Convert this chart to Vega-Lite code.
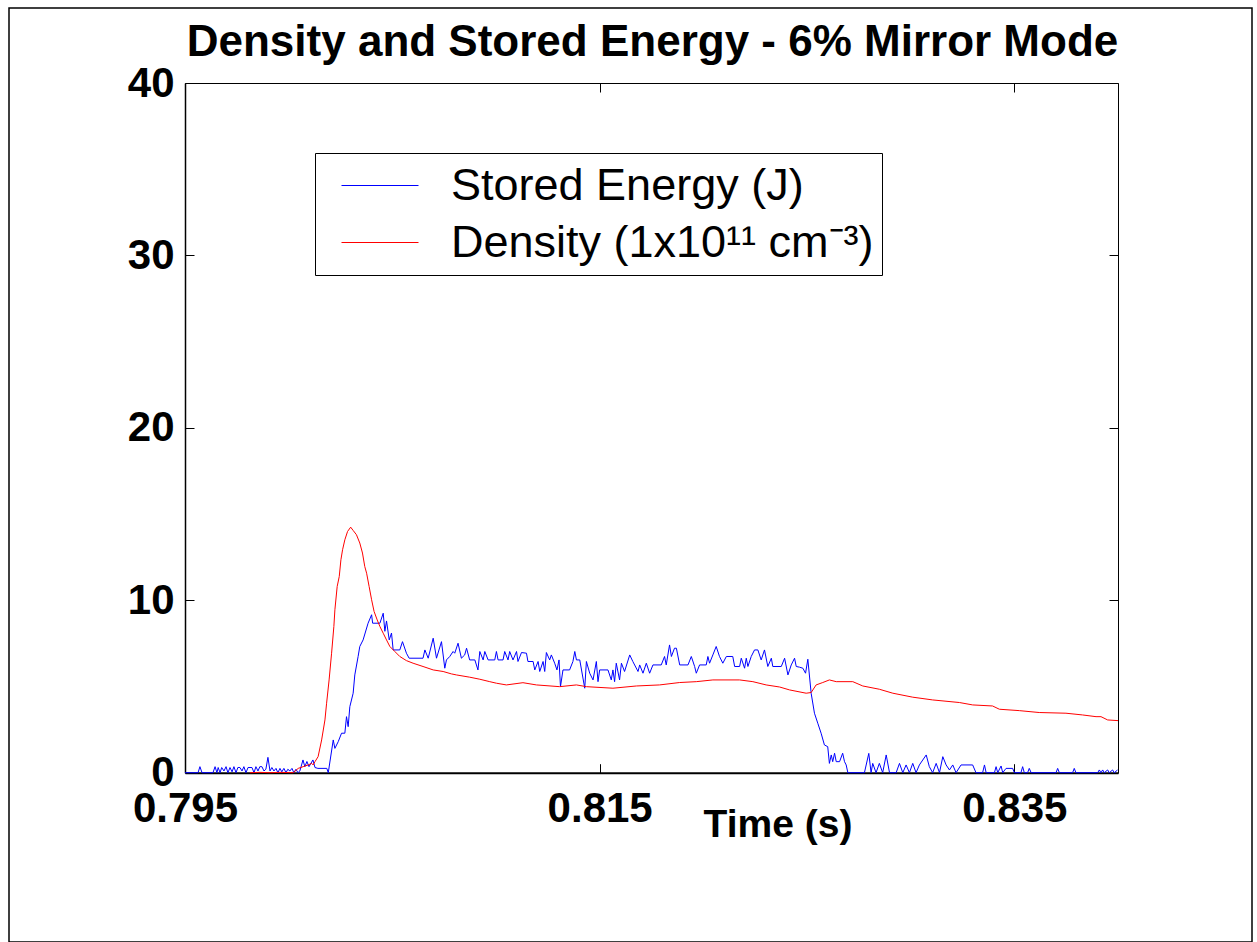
{
  "$schema": "https://vega.github.io/schema/vega-lite/v6.json",
  "width": 1243,
  "height": 934,
  "autosize": "none",
  "padding": {"left": 9, "top": 8, "right": 5, "bottom": 0},
  "background": "white",
  "config": {
    "view": {"stroke": "black", "strokeWidth": 1.5},
    "font": "Liberation Sans"
  },
  "title": {
    "text": "Density and Stored Energy - 6% Mirror Mode",
    "font": "Liberation Sans",
    "fontSize": 44,
    "fontWeight": "bold",
    "color": "black",
    "anchor": "middle",
    "frame": "group",
    "baseline": "alphabetic",
    "offset": 0,
    "dy": 92,
    "dx": 22
  },
  "datasets": {
    "energy": [
      {"t":0.79500,"v":0},{"t":0.79563,"v":0},{"t":0.79572,"v":0.35},{"t":0.79582,"v":0},{"t":0.79635,"v":0},{"t":0.79645,"v":0.35},{"t":0.79654,"v":0},{"t":0.79660,"v":0.3},{"t":0.79669,"v":0},{"t":0.79677,"v":0.3},{"t":0.79688,"v":0.1},{"t":0.79698,"v":0.35},{"t":0.79707,"v":0},{"t":0.79717,"v":0.3},{"t":0.79727,"v":0.05},{"t":0.79736,"v":0.35},{"t":0.79746,"v":0},{"t":0.79755,"v":0.3},{"t":0.79765,"v":0.3},{"t":0.79775,"v":0.1},{"t":0.79784,"v":0.35},{"t":0.79794,"v":0},{"t":0.79804,"v":0.3},{"t":0.79823,"v":0.3},{"t":0.79833,"v":0},{"t":0.79842,"v":0.35},{"t":0.79852,"v":0.1},{"t":0.79861,"v":0.35},{"t":0.79871,"v":0.35},{"t":0.79881,"v":0.1},{"t":0.79890,"v":0.2},{"t":0.79900,"v":0.89},{"t":0.79910,"v":0.1},{"t":0.79919,"v":0.3},{"t":0.79929,"v":0.1},{"t":0.79939,"v":0.25},{"t":0.79948,"v":0},{"t":0.79958,"v":0.25},{"t":0.79967,"v":0.05},{"t":0.79977,"v":0.25},{"t":0.79987,"v":0},{"t":0.79996,"v":0.2},{"t":0.80006,"v":0.1},{"t":0.80016,"v":0.25},{"t":0.80025,"v":0},{"t":0.80035,"v":0.2},{"t":0.80045,"v":0},{"t":0.80054,"v":0.1},{"t":0.80069,"v":0.74},{"t":0.80078,"v":0.35},{"t":0.80088,"v":0.65},{"t":0.80098,"v":0.35},{"t":0.80117,"v":0.74},{"t":0.80127,"v":0.3},{"t":0.80141,"v":0.25},{"t":0.80184,"v":0.25},{"t":0.80191,"v":0},{"t":0.80215,"v":1.9},{"t":0.80223,"v":1.41},{"t":0.80239,"v":1.8},{"t":0.80255,"v":2.29},{"t":0.80271,"v":2.29},{"t":0.80279,"v":3.25},{"t":0.80287,"v":2.67},{"t":0.80295,"v":3.83},{"t":0.80311,"v":4.61},{"t":0.80319,"v":5.67},{"t":0.80335,"v":6.74},{"t":0.80343,"v":7.32},{"t":0.80359,"v":7.7},{"t":0.80383,"v":8.67},{"t":0.80400,"v":9.16},{"t":0.80405,"v":8.67},{"t":0.80440,"v":8.67},{"t":0.80456,"v":9.25},{"t":0.80464,"v":8.2},{"t":0.80472,"v":8.8},{"t":0.80485,"v":7.7},{"t":0.80496,"v":8.1},{"t":0.80504,"v":7.12},{"t":0.80536,"v":7.12},{"t":0.80549,"v":7.6},{"t":0.80568,"v":6.93},{"t":0.80581,"v":6.64},{"t":0.80648,"v":6.64},{"t":0.80657,"v":7.12},{"t":0.80673,"v":6.64},{"t":0.80697,"v":7.8},{"t":0.80713,"v":6.64},{"t":0.80737,"v":7.6},{"t":0.80753,"v":6.06},{"t":0.80761,"v":6.54},{"t":0.80777,"v":6.74},{"t":0.80793,"v":7.03},{"t":0.80801,"v":6.93},{"t":0.80817,"v":7.51},{"t":0.80833,"v":6.64},{"t":0.80849,"v":6.83},{"t":0.80858,"v":7.22},{"t":0.80873,"v":6.54},{"t":0.80898,"v":6.54},{"t":0.80913,"v":5.96},
      {"t":0.80922,"v":7.03},{"t":0.80938,"v":6.54},{"t":0.80946,"v":7.03},{"t":0.80962,"v":6.54},{"t":0.80994,"v":6.54},{"t":0.81002,"v":7.03},{"t":0.81010,"v":6.54},{"t":0.81034,"v":6.54},{"t":0.81042,"v":7.03},{"t":0.81058,"v":6.54},{"t":0.81066,"v":7.03},{"t":0.81082,"v":6.54},{"t":0.81099,"v":7.03},{"t":0.81106,"v":6.45},{"t":0.81123,"v":6.97},{"t":0.81147,"v":6.93},{"t":0.81154,"v":6.45},{"t":0.81179,"v":6.45},{"t":0.81187,"v":5.96},{"t":0.81203,"v":6.45},{"t":0.81211,"v":5.87},{"t":0.81227,"v":6.45},{"t":0.81235,"v":5.87},{"t":0.81243,"v":6.97},{"t":0.81259,"v":6.54},{"t":0.81267,"v":6.83},{"t":0.81283,"v":6.35},{"t":0.81294,"v":5.96},{"t":0.81304,"v":6.54},{"t":0.81311,"v":4.99},{"t":0.81323,"v":5.96},{"t":0.81355,"v":5.96},{"t":0.81371,"v":6.45},{"t":0.81380,"v":7.03},{"t":0.81388,"v":6.54},{"t":0.81404,"v":6.54},{"t":0.81428,"v":4.9},{"t":0.81436,"v":6.45},{"t":0.81452,"v":5.77},{"t":0.81468,"v":5.38},{"t":0.81484,"v":6.45},{"t":0.81492,"v":5.28},{"t":0.81500,"v":5.96},{"t":0.81540,"v":5.96},{"t":0.81556,"v":5.38},{"t":0.81564,"v":5.96},{"t":0.81572,"v":5.28},{"t":0.81580,"v":6.35},{"t":0.81596,"v":5.38},{"t":0.81605,"v":6.35},{"t":0.81620,"v":5.87},{"t":0.81645,"v":6.83},{"t":0.81660,"v":6.45},{"t":0.81685,"v":5.87},{"t":0.81693,"v":6.25},{"t":0.81709,"v":5.77},{"t":0.81725,"v":6.35},{"t":0.81741,"v":5.77},{"t":0.81757,"v":6.25},{"t":0.81797,"v":6.25},{"t":0.81813,"v":6.74},{"t":0.81821,"v":6.25},{"t":0.81837,"v":7.41},{"t":0.81846,"v":6.74},{"t":0.81861,"v":7.22},{"t":0.81870,"v":7.22},{"t":0.81886,"v":6.25},{"t":0.81926,"v":6.25},{"t":0.81942,"v":6.74},{"t":0.81958,"v":6.16},{"t":0.81966,"v":5.77},{"t":0.81982,"v":6.25},{"t":0.82014,"v":6.25},{"t":0.82022,"v":6.74},{"t":0.82030,"v":6.35},{"t":0.82046,"v":6.83},{"t":0.82062,"v":7.32},{"t":0.82078,"v":6.74},{"t":0.82094,"v":6.35},{"t":0.82111,"v":6.74},{"t":0.82142,"v":6.74},{"t":0.82151,"v":6.16},{"t":0.82175,"v":6.16},{"t":0.82183,"v":6.64},{"t":0.82199,"v":6.06},{"t":0.82207,"v":6.64},{"t":0.82215,"v":6.16},{"t":0.82231,"v":6.74},{"t":0.82247,"v":7.12},{"t":0.82263,"v":7.12},{"t":0.82279,"v":6.54},{"t":0.82295,"v":7.12},{"t":0.82311,"v":6.16},{"t":0.82328,"v":6.64},{"t":0.82335,"v":6.16},{"t":0.82376,"v":6.16},{"t":0.82392,"v":6.64},{"t":0.82408,"v":5.67},{"t":0.82424,"v":6.25},{"t":0.82440,"v":6.64},{"t":0.82448,"v":6.16},{"t":0.82464,"v":6.12},{"t":0.82480,"v":6.06},{"t":0.82493,"v":5.77},{"t":0.82504,"v":6.58},{"t":0.82520,"v":4.61},{"t":0.82536,"v":3.45},{"t":0.82552,"v":2.87},{"t":0.82568,"v":2.29},{"t":0.82584,"v":1.61},{"t":0.82600,"v":1.51},
      {"t":0.82608,"v":0.54},{"t":0.82617,"v":1.03},{"t":0.82624,"v":0.64},{"t":0.82633,"v":1.13},{"t":0.82641,"v":0.64},{"t":0.82657,"v":0.64},{"t":0.82672,"v":1.13},{"t":0.82681,"v":0.64},{"t":0.82689,"v":0.45},{"t":0.82697,"v":0},{"t":0.82777,"v":0},{"t":0.82798,"v":1.12},{"t":0.82809,"v":0},{"t":0.82817,"v":0.54},{"t":0.82833,"v":0},{"t":0.82849,"v":0.54},{"t":0.82865,"v":0},{"t":0.82882,"v":1.03},{"t":0.82898,"v":0},{"t":0.82930,"v":0},{"t":0.82946,"v":0.54},{"t":0.82962,"v":0},{"t":0.82978,"v":0.45},{"t":0.82994,"v":0},{"t":0.83010,"v":0.54},{"t":0.83026,"v":0},{"t":0.83042,"v":0.45},{"t":0.83075,"v":1.03},{"t":0.83090,"v":0.35},{"t":0.83106,"v":0},{"t":0.83123,"v":0.54},{"t":0.83139,"v":0},{"t":0.83155,"v":0.93},{"t":0.83171,"v":0.45},{"t":0.83187,"v":0.16},{"t":0.83203,"v":0.45},{"t":0.83219,"v":0},{"t":0.83243,"v":0.45},{"t":0.83299,"v":0.45},{"t":0.83315,"v":0},{"t":0.83347,"v":0},{"t":0.83356,"v":0.45},{"t":0.83364,"v":0},{"t":0.83404,"v":0},{"t":0.83412,"v":0.35},{"t":0.83420,"v":0},{"t":0.83436,"v":0.39},{"t":0.83444,"v":0},{"t":0.83460,"v":0.25},{"t":0.83492,"v":0.25},{"t":0.83500,"v":0},{"t":0.83532,"v":0},{"t":0.83540,"v":0.35},{"t":0.83548,"v":0},{"t":0.83564,"v":0},{"t":0.83572,"v":0.25},{"t":0.83581,"v":0},{"t":0.83701,"v":0},{"t":0.83709,"v":0.25},{"t":0.83717,"v":0},{"t":0.83781,"v":0},{"t":0.83789,"v":0.25},{"t":0.83797,"v":0},{"t":0.83902,"v":0},{"t":0.83910,"v":0.16},{"t":0.83918,"v":0},{"t":0.83926,"v":0.16},{"t":0.83934,"v":0},{"t":0.83950,"v":0.16},{"t":0.83958,"v":0},{"t":0.83974,"v":0.16},{"t":0.83982,"v":0},{"t":0.83998,"v":0.16}
    ],
    "density": [
      {"t":0.79813,"v":0},{"t":0.79861,"v":0.02},{"t":0.79910,"v":0},{"t":0.79958,"v":0.02},{"t":0.80022,"v":0},{"t":0.80046,"v":0.25},{"t":0.80070,"v":0.35},{"t":0.80094,"v":0.45},{"t":0.80111,"v":0.54},{"t":0.80118,"v":0.45},{"t":0.80127,"v":0.64},{"t":0.80142,"v":0.93},{"t":0.80159,"v":1.9},{"t":0.80175,"v":3.06},{"t":0.80183,"v":4.03},{"t":0.80195,"v":5.38},{"t":0.80207,"v":6.93},{"t":0.80218,"v":8.48},{"t":0.80223,"v":9.45},{"t":0.80234,"v":10.8},{"t":0.80244,"v":11.38},{"t":0.80252,"v":12.35},{"t":0.80260,"v":12.93},{"t":0.80271,"v":13.51},{"t":0.80284,"v":13.99},{"t":0.80299,"v":14.24},{"t":0.80311,"v":14.05},{"t":0.80327,"v":13.8},{"t":0.80343,"v":13.32},{"t":0.80356,"v":12.74},{"t":0.80367,"v":11.96},{"t":0.80376,"v":11.57},{"t":0.80388,"v":10.8},{"t":0.80400,"v":10.03},{"t":0.80412,"v":9.35},{"t":0.80427,"v":8.86},{"t":0.80440,"v":8.48},{"t":0.80456,"v":8.09},{"t":0.80472,"v":7.7},{"t":0.80488,"v":7.32},{"t":0.80512,"v":7.03},{"t":0.80536,"v":6.74},{"t":0.80568,"v":6.5},{"t":0.80600,"v":6.35},{"t":0.80648,"v":6.16},{"t":0.80697,"v":5.96},{"t":0.80745,"v":5.87},{"t":0.80785,"v":5.73},{"t":0.80809,"v":5.67},{"t":0.80873,"v":5.54},{"t":0.80922,"v":5.42},{"t":0.80970,"v":5.28},{"t":0.81002,"v":5.19},{"t":0.81050,"v":5.09},{"t":0.81130,"v":5.22},{"t":0.81195,"v":5.09},{"t":0.81307,"v":4.99},{"t":0.81388,"v":5.09},{"t":0.81436,"v":4.99},{"t":0.81564,"v":4.9},{"t":0.81677,"v":5.03},{"t":0.81789,"v":5.09},{"t":0.81886,"v":5.23},{"t":0.81966,"v":5.28},{"t":0.82046,"v":5.38},{"t":0.82175,"v":5.38},{"t":0.82239,"v":5.28},{"t":0.82303,"v":5.09},{"t":0.82368,"v":4.97},{"t":0.82416,"v":4.8},{"t":0.82496,"v":4.61},{"t":0.82520,"v":4.65},{"t":0.82544,"v":5.09},{"t":0.82576,"v":5.23},{"t":0.82608,"v":5.38},{"t":0.82641,"v":5.28},{"t":0.82721,"v":5.28},{"t":0.82769,"v":5.03},{"t":0.82849,"v":4.84},{"t":0.82914,"v":4.61},{"t":0.83010,"v":4.38},{"t":0.83106,"v":4.22},{"t":0.83235,"v":4.07},{"t":0.83299,"v":3.93},{"t":0.83395,"v":3.87},{"t":0.83428,"v":3.68},{"t":0.83524,"v":3.6},{"t":0.83620,"v":3.49},{"t":0.83749,"v":3.45},{"t":0.83829,"v":3.35},{"t":0.83894,"v":3.25},{"t":0.83918,"v":3.25},{"t":0.83950,"v":3.06},{"t":0.84000,"v":3.02}
    ]
  },
  "layer": [
    {
      "data": {"name": "energy"},
      "mark": {"type": "line", "strokeWidth": 1, "clip": true},
      "encoding": {
        "x": {
          "field": "t", "type": "quantitative",
          "scale": {"domain": [0.795, 0.84], "range": [176, 1109], "nice": false, "zero": false},
          "axis": {
            "orient": "bottom", "offset": -169.3,
            "values": [0.795, 0.815, 0.835], "format": ".3f",
            "grid": false, "tickSize": -9, "tickColor": "black", "tickWidth": 1,
            "domainColor": "black", "domainWidth": 2,
            "labelFont": "Liberation Sans", "labelFontSize": 42, "labelFontWeight": "bold", "labelColor": "black",
            "labelPadding": 25, "labelFlush": false, "labelOverlap": false, "labelBound": false,
            "title": "Time (s)", "titleFont": "Liberation Sans", "titleFontSize": 39, "titleFontWeight": "bold", "titleColor": "black",
            "titleX": 768.5, "titleY": 63.3, "titleBaseline": "alphabetic", "titleAlign": "center"
          }
        },
        "y": {
          "field": "v", "type": "quantitative",
          "scale": {"domain": [0, 40], "range": [764.7, 75], "nice": false, "zero": false},
          "axis": {
            "orient": "left", "offset": -176,
            "values": [0, 10, 20, 30, 40],
            "grid": false, "tickSize": -9, "tickColor": "black", "tickWidth": 1,
            "domainColor": "black", "domainWidth": 1.5,
            "labelFont": "Liberation Sans", "labelFontSize": 42, "labelFontWeight": "bold", "labelColor": "black",
            "labelPadding": 20, "labelFlush": false, "labelOverlap": false, "labelBound": false,
            "title": null
          }
        },
        "color": {
          "datum": "Stored Energy (J)", "type": "nominal",
          "scale": {"domain": ["Stored Energy (J)", "Density (1x10¹¹ cm⁻³)"], "range": ["#0000ff", "#ff0000"]},
          "legend": {
            "orient": "none", "legendX": 306, "legendY": 145,
            "title": null, "direction": "vertical",
            "symbolType": "stroke", "symbolSize": 5929, "symbolStrokeWidth": 1, "symbolOffset": 18,
            "labelFont": "Liberation Sans", "labelFontSize": 45, "labelColor": "black",
            "labelOffset": 32, "labelLimit": 1000,
            "padding": 8, "rowPadding": 8, "clipHeight": 49,
            "strokeColor": "black", "fillColor": "white", "cornerRadius": 0
          }
        }
      }
    },
    {
      "data": {"name": "density"},
      "mark": {"type": "line", "strokeWidth": 1, "clip": true},
      "encoding": {
        "x": {
          "field": "t", "type": "quantitative",
          "axis": {
            "orient": "top", "offset": -75,
            "values": [0.795, 0.815, 0.835],
            "grid": false, "tickSize": -9, "tickColor": "black", "tickWidth": 1,
            "domainColor": "black", "domainWidth": 1,
            "labels": false, "title": null
          }
        },
        "y": {
          "field": "v", "type": "quantitative",
          "axis": {
            "orient": "right", "offset": -134,
            "values": [0, 10, 20, 30, 40],
            "grid": false, "tickSize": -9, "tickColor": "black", "tickWidth": 1,
            "domainColor": "black", "domainWidth": 1,
            "labels": false, "title": null
          }
        },
        "color": {"datum": "Density (1x10¹¹ cm⁻³)", "type": "nominal"}
      }
    }
  ],
  "resolve": {"axis": {"x": "independent", "y": "independent"}}
}
